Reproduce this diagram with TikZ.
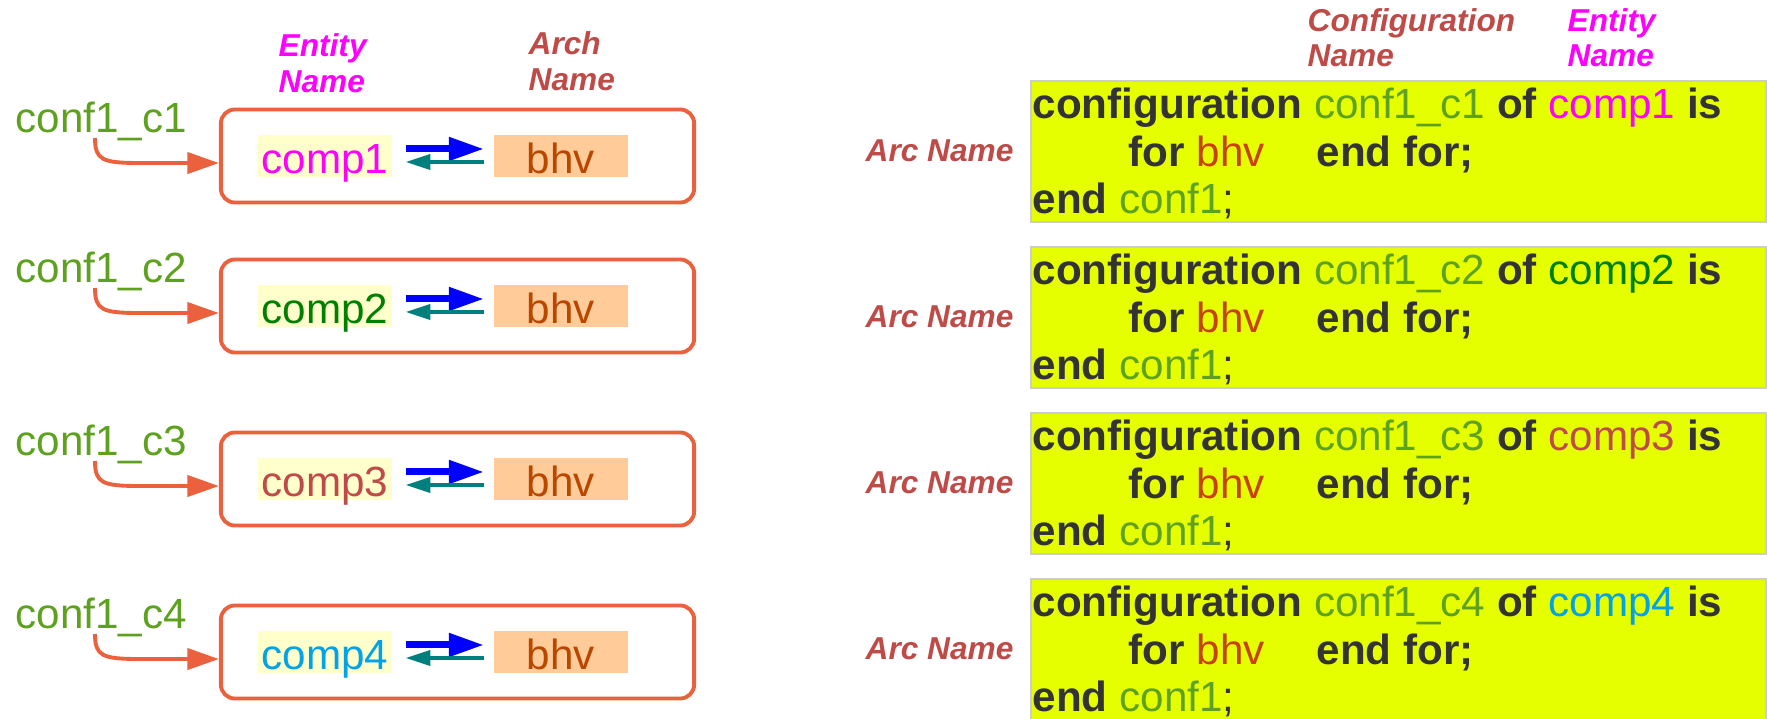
\documentclass[tikz,border=0pt]{standalone}
\usepackage{fontspec}
\setmainfont{Liberation Sans}
\usetikzlibrary{arrows.meta}

\definecolor{confgreen}{HTML}{5EA11E}
\definecolor{entmag}{HTML}{FF00FF}
\definecolor{archred}{HTML}{BE4B48}
\definecolor{compgreen}{HTML}{008000}
\definecolor{compblue}{HTML}{00A2E8}
\definecolor{boxorange}{HTML}{EB613D}
\definecolor{hiyellow}{HTML}{FFFFCC}
\definecolor{bhvfill}{HTML}{FFCC99}
\definecolor{bhvtext}{HTML}{B94700}
\definecolor{bhvcode}{HTML}{C8410D}
\definecolor{codeyellow}{HTML}{E6FF00}
\definecolor{codeframe}{HTML}{CCCCCC}
\definecolor{codetext}{HTML}{333333}
\definecolor{pullteal}{HTML}{007F7F}

\tikzset{
  lbl/.style={font=\fontsize{9}{10}\selectfont\bfseries\itshape, align=left, inner sep=0pt},
  big/.style={font=\fontsize{12}{14}\selectfont, inner sep=0pt},
  compbox/.style={draw=boxorange, line width=1.1pt, rounded corners=0.14cm,
    minimum width=4.73cm, minimum height=0.93cm},
  hilite/.style={big, text height=0.38cm, text depth=0.04cm, minimum width=1.34cm},
  codebox/.style={fill=codeyellow, draw=codeframe, line width=0.5pt, inner sep=0pt,
    minimum width=7.35cm, minimum height=1.41cm},
  codeline/.style={big, anchor=base west, text=codetext},
  confarrow/.style={draw=boxorange, line width=1.1pt, -{Triangle[length=9pt, width=6pt]}},
  pusharrow/.style={blue, line width=2pt, -{Triangle[length=10pt, width=6.3pt]},
    shorten <=3.7pt, shorten >=2.6pt},
  pullarrow/.style={pullteal, line width=1pt, -{Triangle[length=7pt, width=4.3pt]},
    shorten <=2.6pt, shorten >=3.7pt}
}

\begin{document}
\begin{tikzpicture}[x=0.01cm, y=-0.01cm]
\useasboundingbox (0,0) rectangle (1767,718);

\node [lbl, anchor=base west, text=entmag] (entlbl) at (278,92) {Entity\\Name};
\node [lbl, anchor=base west, text=archred] (archlbl) at (528,90) {Arch\\Name};
\node [lbl, anchor=base west, text=archred] (cfglbl) at (1307,67) {Configuration\\Name};
\node [lbl, anchor=base west, text=entmag] (entlbl2) at (1567,67) {Entity\\Name};

\foreach \n/\lc/\rb/\col in {1/156/166/entmag, 2/306/332/compgreen, 3/479/498/archred, 4/652/664/compblue} {
  \node [compbox] (box\n) at (457.5,\lc) {};
  \node [hilite, fill=hiyellow, text=\col] (comp\n) at (325,\lc) {comp\n};
  \node [hilite, fill=bhvfill, text=bhvtext] (bhv\n) at (561,\lc) {bhv};
  \draw [pusharrow] ([yshift=2pt]comp\n.east) -- ([yshift=2pt]bhv\n.west);
  \draw [pullarrow] ([yshift=-1.7pt]bhv\n.west) -- ([yshift=-1.7pt]comp\n.east);
  \node [big, anchor=base west, text=confgreen] (conf\n) at (15,\lc-24) {conf1\_c\n};
  \coordinate (tail\n) at (95,\lc-18);
  \draw [confarrow] (tail\n) .. controls (95,\lc+4) and (102,\lc+7) .. (140,\lc+7)
    -- ([yshift=-2pt]box\n.west);

  \node [codebox] (code\n) at (1398.5,\rb-14.5) {};
  \node [lbl, anchor=base west, text=archred] (arc\n) at (865,\rb-5) {Arc Name};
  \node [codeline] (line\n a) at (1032,\rb-48)
    {\textbf{configuration} \textcolor{confgreen}{conf1\_c\n} \textbf{of} \textcolor{\col}{comp\n} \textbf{is}};
  \node [codeline] (line\n b) at (1128,\rb) {\textbf{for} \textcolor{bhvcode}{bhv}};
  \node [codeline] (line\n c) at (1316,\rb) {\textbf{end for;}};
  \node [codeline] (line\n d) at (1032,\rb+47) {\textbf{end} \textcolor{confgreen}{conf1};};
}
\end{tikzpicture}
\end{document}
